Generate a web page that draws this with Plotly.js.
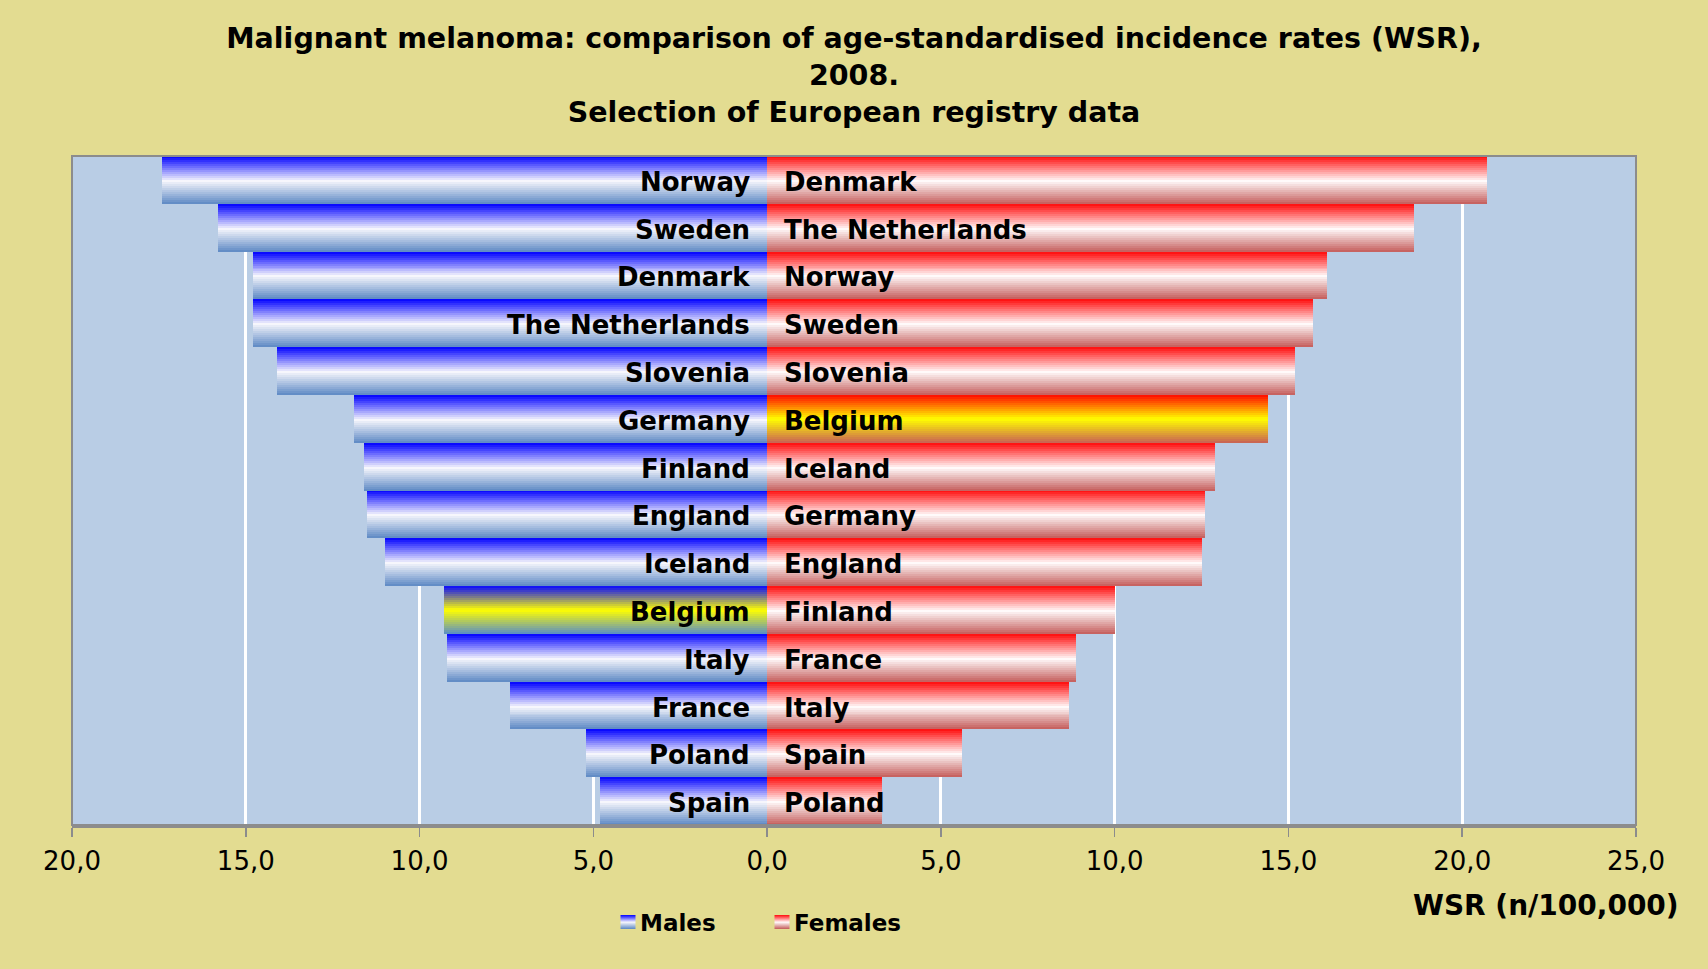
<!DOCTYPE html>
<html>
<head>
<meta charset="utf-8">
<script src="https://cdn.plot.ly/plotly-3.0.1.min.js"></script>
<style>
  html, body { margin: 0; padding: 0; background: #e3dc91; }
  #chart { width: 1708px; height: 969px; }
</style>
</head>
<body>
<div id="chart"></div>
<script>
// ---- DATA ----
const maleCountries = ['Norway', 'Sweden', 'Denmark', 'The Netherlands', 'Slovenia', 'Germany', 'Finland',
  'England', 'Iceland', 'Belgium', 'Italy', 'France', 'Poland', 'Spain'];
const maleWSR = [17.4, 15.8, 14.8, 14.8, 14.1, 11.9, 11.6, 11.5, 11.0, 9.3, 9.2, 7.4, 5.2, 4.8];

const femaleCountries = ['Denmark', 'The Netherlands', 'Norway', 'Sweden', 'Slovenia', 'Belgium', 'Iceland',
  'Germany', 'England', 'Finland', 'France', 'Italy', 'Spain', 'Poland'];
const femaleWSR = [20.7, 18.6, 16.1, 15.7, 15.2, 14.4, 12.9, 12.6, 12.5, 10.0, 8.9, 8.7, 5.6, 3.3];

const highlightCountry = 'Belgium';
const seriesNames = ['Males', 'Females'];

const tickValues = [-20, -15, -10, -5, 0, 5, 10, 15, 20, 25];
const tickLabels = ['20,0', '15,0', '10,0', '5,0', '0,0', '5,0', '10,0', '15,0', '20,0', '25,0'];

const chartTitle = 'Malignant melanoma: comparison of age-standardised incidence rates (WSR),<br>2008.<br>Selection of European registry data';
const axisTitle = 'WSR (n/100,000)';

// ---- STYLE ----
const FONT = '"DejaVu Sans", Verdana, sans-serif';
const gradMale = [[0, [0, 0, 255]], [0.52, [246, 246, 252]], [1, [92, 136, 196]]];
const gradFemale = [[0, [255, 10, 10]], [0.52, [255, 250, 250]], [1, [196, 92, 90]]];
const gradMaleHi = [[0, [10, 10, 255]], [0.5, [255, 255, 0]], [1, [88, 140, 200]]];
const gradFemaleHi = [[0, [255, 10, 0]], [0.5, [255, 255, 0]], [1, [200, 96, 86]]];

function gradColor(stops, t) {
  for (let i = 0; i < stops.length - 1; i++) {
    const [t0, c0] = stops[i], [t1, c1] = stops[i + 1];
    if (t <= t1) {
      const f = (t - t0) / (t1 - t0);
      const c = c0.map((v, j) => Math.round(v + (c1[j] - v) * f));
      return `rgb(${c[0]},${c[1]},${c[2]})`;
    }
  }
  const c = stops[stops.length - 1][1];
  return `rgb(${c[0]},${c[1]},${c[2]})`;
}

const rowsM = maleCountries.map((_, i) => i);
const rowsF = femaleCountries.map((_, i) => i);
const N = 24; // gradient bands per bar
const traces = [];
for (let k = 0; k < N; k++) {
  const t = (k + 0.5) / N;
  const w = k < N - 1 ? 1.7 / N : 1 / N;
  const off = -0.5 + k / N;
  traces.push({
    type: 'bar', orientation: 'h',
    x: maleWSR.map(v => -v), y: rowsM,
    width: w, offset: off,
    marker: { color: maleCountries.map(c => gradColor(c === highlightCountry ? gradMaleHi : gradMale, t)), line: { width: 0 } },
    showlegend: false, hoverinfo: 'skip'
  });
  traces.push({
    type: 'bar', orientation: 'h',
    x: femaleWSR, y: rowsF,
    width: w, offset: off,
    marker: { color: femaleCountries.map(c => gradColor(c === highlightCountry ? gradFemaleHi : gradFemale, t)), line: { width: 0 } },
    showlegend: false, hoverinfo: 'skip'
  });
}
// legend entries
traces.push({ type: 'bar', orientation: 'h', x: [null], y: [null], name: seriesNames[0], marker: { color: '#8fa8e8' }, hoverinfo: 'skip' });
traces.push({ type: 'bar', orientation: 'h', x: [null], y: [null], name: seriesNames[1], marker: { color: '#f0a0a0' }, hoverinfo: 'skip' });

const annotations = [];
maleCountries.forEach((c, i) => annotations.push({
  xref: 'x', yref: 'y', x: 0, y: rowsM[i], text: c, showarrow: false,
  xanchor: 'right', yanchor: 'middle', xshift: -15, yshift: -2,
  font: { family: FONT, size: 26, color: '#000', weight: 'bold' }
}));
femaleCountries.forEach((c, i) => annotations.push({
  xref: 'x', yref: 'y', x: 0, y: rowsF[i], text: c, showarrow: false,
  xanchor: 'left', yanchor: 'middle', xshift: 15, yshift: -2,
  font: { family: FONT, size: 26, color: '#000', weight: 'bold' }
}));
annotations.push({
  xref: 'paper', yref: 'paper', x: 1.0288, y: -0.1196, xanchor: 'right', yanchor: 'middle',
  text: axisTitle, showarrow: false,
  font: { family: FONT, size: 28, color: '#000', weight: 'bold' }
});

const layout = {
  width: 1708, height: 969,
  paper_bgcolor: '#e3dc91', plot_bgcolor: '#b9cde5',
  margin: { l: 72, r: 72, t: 156, b: 144 },
  barmode: 'overlay', bargap: 0,
  font: { family: FONT, color: '#000' },
  title: {
    text: chartTitle, x: 0.5, xanchor: 'center', xref: 'container',
    y: 1 - 48 / 969, yref: 'container', yanchor: 'middle',
    font: { family: FONT, size: 28.5, color: '#000', weight: 'bold' }
  },
  xaxis: {
    range: [-20, 25], tickvals: tickValues, ticktext: tickLabels,
    showgrid: true, gridcolor: '#ffffff', gridwidth: 3,
    zeroline: false, showline: true, linecolor: '#8c8c8c', linewidth: 3,
    ticks: 'outside', ticklen: 9, tickwidth: 1.5, tickcolor: '#8c8c8c',
    ticklabelstandoff: 2,
    tickfont: { family: FONT, size: 26, color: '#000' }, fixedrange: true
  },
  yaxis: {
    range: [13.5, -0.5], showticklabels: false, showgrid: false, zeroline: false,
    ticks: '', fixedrange: true
  },
  shapes: [{
    type: 'rect', xref: 'paper', yref: 'paper', x0: 0, x1: 1, y0: 0, y1: 1,
    line: { color: '#8c8c8c', width: 2 }, layer: 'above'
  }],
  annotations: annotations,
  showlegend: true,
  legend: {
    orientation: 'h', x: 0.3376, xanchor: 'left', y: -0.145, yanchor: 'middle',
    bgcolor: 'rgba(0,0,0,0)', entrywidth: 109,
    font: { family: FONT, size: 23, color: '#000', weight: 'bold' }
  },
  hovermode: false
};

function addGrad(defs, id, stops) {
  const ns = 'http://www.w3.org/2000/svg';
  const lg = document.createElementNS(ns, 'linearGradient');
  lg.setAttribute('id', id);
  lg.setAttribute('x1', '0'); lg.setAttribute('y1', '0');
  lg.setAttribute('x2', '0'); lg.setAttribute('y2', '1');
  stops.forEach(([t, c]) => {
    const s = document.createElementNS(ns, 'stop');
    s.setAttribute('offset', String(t));
    s.setAttribute('stop-color', `rgb(${c[0]},${c[1]},${c[2]})`);
    lg.appendChild(s);
  });
  defs.appendChild(lg);
}

Plotly.newPlot('chart', traces, layout, { displayModeBar: false, staticPlot: true }).then(gd => {
  const svg = gd.querySelector('svg.main-svg');
  let defs = svg.querySelector('defs');
  if (!defs) { defs = document.createElementNS('http://www.w3.org/2000/svg', 'defs'); svg.appendChild(defs); }
  addGrad(defs, 'lgMale', gradMale);
  addGrad(defs, 'lgFemale', gradFemale);
  const ids = ['lgMale', 'lgFemale'];
  gd.querySelectorAll('.legend .traces').forEach((tr, i) => {
    tr.querySelectorAll('.legendpoints path').forEach(p => {
      p.setAttribute('d', 'M15.5,7H0.5V-7H15.5Z');
      p.style.fill = `url(#${ids[i]})`;
      p.style.stroke = 'none';
    });
  });
});
</script>
</body>
</html>
